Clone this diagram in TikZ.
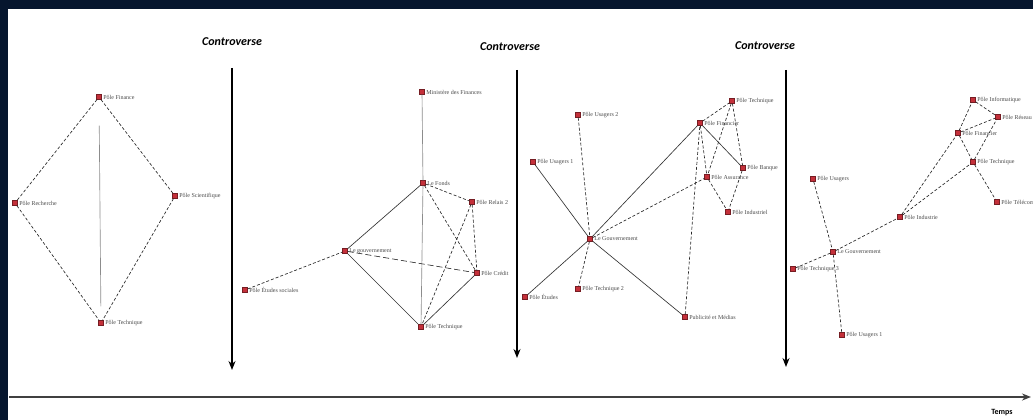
\documentclass[tikz,border=0pt]{standalone}
\usepackage{fontspec}
\setmainfont{Liberation Serif}
\newfontfamily\headfont{Carlito}
\usetikzlibrary{arrows.meta, positioning}
\definecolor{navy}{RGB}{6,22,46}
\definecolor{nodered}{RGB}{196,48,58}
\tikzset{
  actor/.style={rectangle, draw=nodered!60!black, fill=nodered, minimum size=5pt,
              inner sep=0pt, line width=0.3pt, label={[lbl]right:#1}},
  lbl/.style={font=\fontsize{6}{7}\selectfont, text=black!70, inner sep=1.5pt},
  link/.style={densely dashed, draw=black!85, line width=0.65pt},
  tie/.style={draw=black!80, line width=0.65pt},
  faint/.style={draw=black!45, line width=0.65pt},
  phase/.style={-{Stealth[length=9pt, width=7pt]}, line width=1.4pt},
  phasetitle/.style={font=\headfont\bfseries\itshape\fontsize{12}{14}\selectfont},
}
\begin{document}
\begin{tikzpicture}[x=1pt, y=-1pt]
  \fill[navy] (0,0) rectangle (1033,420);
  \fill[white] (8,9) rectangle (1033,420);
  \useasboundingbox (0,0) rectangle (1033,420);

  % controverses
  \foreach \n/\xt/\yt/\xa/\ya/\yb in {1/232/42/232/68/370, 2/510/47/517/70/358, 3/765/46/786/70/367} {
    \node[phasetitle] (ctr\n) at (\xt,\yt) {Controverse};
    \coordinate (top\n) at (\xa,\ya);
    \coordinate (bot\n) at (\xa,\yb);
    \draw[phase] (top\n) -- (bot\n);
  }

  % axe du temps
  \coordinate (t0) at (9,397);
  \coordinate (t1) at (1031,397);
  \draw[phase, draw=black!75, line width=1.6pt] (t0) -- (t1);
  \node[font=\headfont\bfseries\fontsize{8}{9}\selectfont] (temps) at (1002,413) {Temps};

  % reseau 1
  \node[actor=Pôle Finance] (fin) at (99,97) {};
  \node[actor=Pôle Recherche] (rech) at (15,203) {};
  \node[actor=Pôle Scientifique] (sci) at (175,196) {};
  \node[actor=Pôle Technique] (tech) at (101,323) {};
  \foreach \a/\b in {fin/rech, fin/sci, rech/tech, sci/tech}
    \draw[link] (\a) -- (\b);
  \draw[faint, shorten <=26pt, shorten >=14pt] (fin) -- (tech);

  % reseau 2
  \node[actor=Ministère des Finances] (min) at (422,92) {};
  \node[actor=Le Fonds] (fonds) at (423,183) {};
  \node[actor=Pôle Relais 2] (relais) at (472,202) {};
  \node[actor=Le gouvernement] (gouv) at (345,251) {};
  \node[actor=Pôle Crédit] (cred) at (477,273) {};
  \node[actor=Pôle Technique] (tech2) at (421,327) {};
  \node[actor=Pôle Études sociales] (etud) at (245,290) {};
  \draw[faint] (min) -- (fonds);
  \draw[faint] (fonds) -- (tech2);
  \foreach \a/\b in {fonds/relais, fonds/cred, relais/cred, relais/tech2, etud/gouv}
    \draw[link] (\a) -- (\b);
  \draw[link, dash pattern=on 6pt off 3pt] (gouv) -- (cred);
  \foreach \a/\b in {fonds/gouv, gouv/tech2, tech2/cred}
    \draw[tie] (\a) -- (\b);

  % reseau 3
  \node[actor=Pôle Usagers 2] (usa2) at (578,115) {};
  \node[actor=Pôle Usagers 1] (usa1) at (533,162) {};
  \node[actor=Le Gouvernement] (gouv3) at (590,239) {};
  \node[actor=Pôle Études] (etu3) at (525,297) {};
  \node[actor=Pôle Technique 2] (tec3) at (578,289) {};
  \node[actor=Publicité et Médias] (pub) at (685,317) {};
  \node[actor=Pôle Financier] (finc) at (700,123) {};
  \node[actor=Pôle Technique] (tecb) at (732,101) {};
  \node[actor=Pôle Banque] (banq) at (743,168) {};
  \node[actor=Pôle Assurance] (assu) at (707,177) {};
  \node[actor=Pôle Industriel] (indu) at (728,212) {};
  \foreach \a/\b in {usa1/gouv3, gouv3/etu3, gouv3/pub, gouv3/finc, finc/banq}
    \draw[tie] (\a) -- (\b);
  \foreach \a/\b in {usa2/gouv3, gouv3/tec3, gouv3/assu, finc/tecb, finc/assu, tecb/banq, tecb/assu, assu/indu, banq/indu, pub/finc}
    \draw[link] (\a) -- (\b);

  % reseau 4
  \node[actor=Pôle Usagers] (usa4) at (813,179) {};
  \node[actor=Le Gouvernement] (gouv4) at (833,252) {};
  \node[actor=Pôle Technique 3] (tec4) at (793,269) {};
  \node[actor=Pôle Usagers 1] (usb4) at (842,335) {};
  \node[actor=Pôle Industrie] (ind4) at (900,217) {};
  \node[actor=Pôle Financier] (fin4) at (958,133) {};
  \node[actor=Pôle Informatique] (inf4) at (973,100) {};
  \node[actor=Pôle Réseau] (res4) at (998,117) {};
  \node[actor=Pôle Technique] (tcb4) at (973,162) {};
  \node[actor=Pôle Télécom] (tgy4) at (997,202) {};
  \foreach \a/\b in {usa4/gouv4, gouv4/tec4, gouv4/usb4, gouv4/ind4, ind4/fin4, ind4/tcb4,
                     fin4/inf4, fin4/res4, inf4/res4, tcb4/res4, fin4/tcb4, tcb4/tgy4}
    \draw[link] (\a) -- (\b);
\end{tikzpicture}
\end{document}
